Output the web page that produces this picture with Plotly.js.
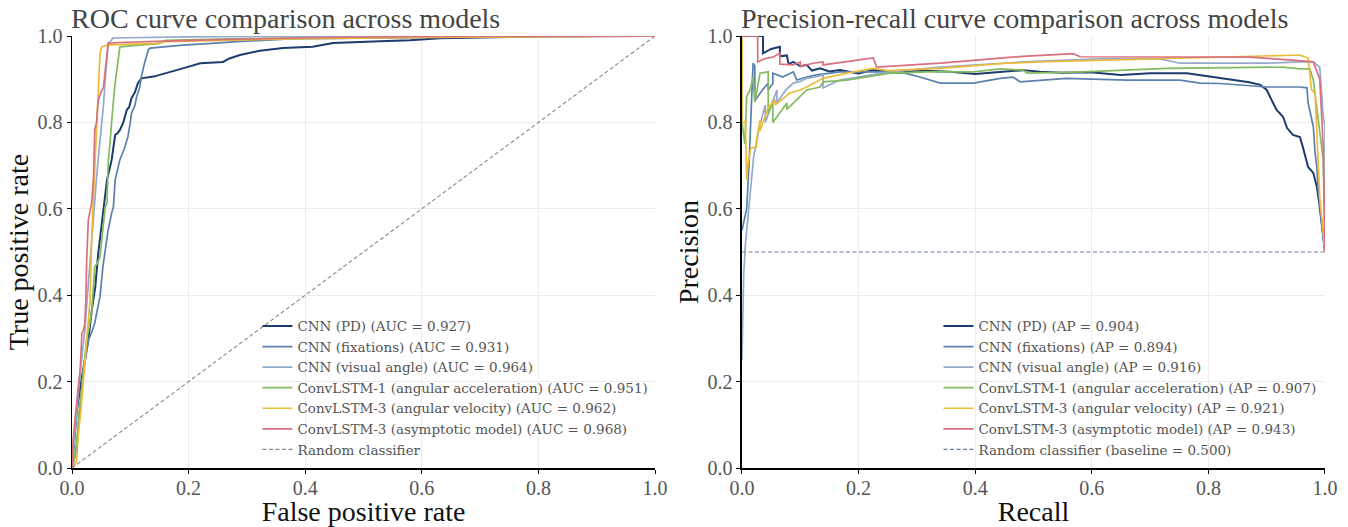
<!DOCTYPE html>
<html>
<head>
<meta charset="utf-8">
<script src="https://cdn.plot.ly/plotly-3.0.1.min.js"></script>
<style>html,body{margin:0;padding:0;background:#fff;}</style>
</head>
<body>
<div id="chart" style="width:1348px;height:527px;"></div>
<script>
// ---------- ROC data ----------
const rocPD_x = [0, 0.002, 0.005, 0.008, 0.012, 0.017, 0.022, 0.028, 0.034, 0.04, 0.045, 0.05, 0.054, 0.06, 0.064, 0.068, 0.074, 0.078, 0.082, 0.088, 0.094, 0.098, 0.102, 0.108, 0.113, 0.119, 0.14, 0.162, 0.19, 0.22, 0.259, 0.27, 0.288, 0.322, 0.362, 0.413, 0.448, 0.528, 0.58, 0.631, 0.7, 0.8, 1.0];
const rocPD_y = [0, 0.04, 0.08, 0.13, 0.17, 0.211, 0.25, 0.296, 0.366, 0.42, 0.497, 0.55, 0.597, 0.667, 0.69, 0.713, 0.771, 0.775, 0.782, 0.8, 0.829, 0.835, 0.856, 0.87, 0.891, 0.902, 0.906, 0.914, 0.925, 0.937, 0.94, 0.948, 0.956, 0.966, 0.972, 0.975, 0.984, 0.988, 0.99, 0.995, 0.997, 0.999, 1.0];

const rocFix_x = [0, 0.004, 0.008, 0.011, 0.014, 0.017, 0.019, 0.024, 0.028, 0.034, 0.039, 0.044, 0.048, 0.053, 0.058, 0.062, 0.068, 0.071, 0.074, 0.078, 0.082, 0.09, 0.096, 0.1, 0.102, 0.108, 0.111, 0.116, 0.119, 0.125, 0.131, 0.134, 0.19, 0.24, 0.283, 0.374, 0.517, 0.66, 0.8, 1.0];
const rocFix_y = [0, 0.02, 0.042, 0.09, 0.142, 0.18, 0.219, 0.26, 0.296, 0.315, 0.335, 0.37, 0.396, 0.466, 0.51, 0.551, 0.59, 0.604, 0.667, 0.69, 0.713, 0.74, 0.767, 0.8, 0.821, 0.84, 0.86, 0.88, 0.906, 0.94, 0.968, 0.972, 0.979, 0.983, 0.987, 0.993, 0.995, 0.998, 0.999, 1.0];

const rocVA_x = [0, 0.003, 0.006, 0.01, 0.014, 0.018, 0.022, 0.026, 0.03, 0.034, 0.038, 0.042, 0.046, 0.05, 0.054, 0.057, 0.06, 0.062, 0.066, 0.07, 0.09, 0.12, 0.2, 0.3, 0.5, 1.0];
const rocVA_y = [0, 0.05, 0.1, 0.16, 0.22, 0.27, 0.32, 0.39, 0.46, 0.54, 0.62, 0.67, 0.73, 0.78, 0.84, 0.9, 0.952, 0.983, 0.988, 0.995, 0.996, 0.997, 0.998, 0.999, 1.0, 1.0];

const rocAcc_x = [0, 0.004, 0.008, 0.012, 0.017, 0.021, 0.025, 0.03, 0.034, 0.039, 0.044, 0.048, 0.053, 0.057, 0.06, 0.062, 0.065, 0.068, 0.071, 0.074, 0.077, 0.079, 0.082, 0.1, 0.151, 0.16, 0.25, 0.4, 0.6, 0.8, 1.0];
const rocAcc_y = [0, 0.02, 0.065, 0.13, 0.188, 0.24, 0.296, 0.33, 0.366, 0.466, 0.475, 0.489, 0.56, 0.604, 0.613, 0.706, 0.75, 0.806, 0.85, 0.891, 0.92, 0.944, 0.975, 0.977, 0.983, 0.99, 0.993, 0.996, 0.998, 0.999, 1.0];

const rocVel_x = [0, 0.004, 0.008, 0.011, 0.015, 0.019, 0.022, 0.025, 0.028, 0.031, 0.034, 0.036, 0.039, 0.042, 0.045, 0.048, 0.051, 0.06, 0.1, 0.145, 0.16, 0.25, 0.4, 0.6, 0.8, 1.0];
const rocVel_y = [0, 0.005, 0.018, 0.08, 0.13, 0.188, 0.24, 0.296, 0.34, 0.389, 0.543, 0.605, 0.66, 0.782, 0.882, 0.96, 0.975, 0.979, 0.981, 0.983, 0.987, 0.99, 0.994, 0.997, 0.999, 1.0];

const rocAsy_x = [0, 0.002, 0.005, 0.008, 0.011, 0.014, 0.017, 0.02, 0.022, 0.024, 0.025, 0.028, 0.031, 0.034, 0.037, 0.039, 0.042, 0.045, 0.05, 0.054, 0.057, 0.06, 0.062, 0.08, 0.117, 0.2, 0.3, 0.4, 0.6, 1.0];
const rocAsy_y = [0, 0.065, 0.11, 0.157, 0.19, 0.227, 0.312, 0.32, 0.335, 0.4, 0.474, 0.574, 0.6, 0.616, 0.674, 0.782, 0.8, 0.852, 0.87, 0.882, 0.92, 0.952, 0.983, 0.985, 0.987, 0.99, 0.993, 0.996, 0.999, 1.0];

const rocRandom_x = [0, 1];
const rocRandom_y = [0, 1];

// ---------- Precision-recall data ----------
const prPD_x = [0, 0.036, 0.036, 0.042, 0.05, 0.065, 0.065, 0.077, 0.08, 0.088, 0.1, 0.111, 0.12, 0.134, 0.15, 0.168, 0.2, 0.225, 0.27, 0.3, 0.357, 0.4, 0.45, 0.482, 0.511, 0.55, 0.597, 0.65, 0.70, 0.763, 0.808, 0.842, 0.87, 0.889, 0.9, 0.911, 0.917, 0.928, 0.935, 0.945, 0.957, 0.962, 0.971, 0.98, 0.986, 0.991, 0.995, 1.0];
const prPD_y = [1, 1, 0.96, 0.965, 0.97, 0.975, 0.953, 0.955, 0.935, 0.94, 0.93, 0.933, 0.92, 0.925, 0.918, 0.921, 0.913, 0.921, 0.915, 0.92, 0.917, 0.912, 0.918, 0.921, 0.917, 0.915, 0.916, 0.91, 0.914, 0.914, 0.905, 0.898, 0.893, 0.887, 0.875, 0.845, 0.829, 0.813, 0.787, 0.771, 0.766, 0.743, 0.697, 0.683, 0.651, 0.604, 0.558, 0.5];

const prFix_x = [0, 0.008, 0.012, 0.017, 0.019, 0.022, 0.022, 0.035, 0.045, 0.045, 0.053, 0.053, 0.07, 0.088, 0.094, 0.111, 0.128, 0.168, 0.225, 0.271, 0.305, 0.34, 0.397, 0.443, 0.465, 0.477, 0.557, 0.66, 0.751, 0.786, 0.82, 0.9, 0.957, 0.969, 0.971, 0.98, 0.983, 0.986, 0.988, 0.991, 0.995, 1.0];
const prFix_y = [0.55, 0.6, 0.7, 0.868, 0.937, 0.93, 0.85, 0.875, 0.891, 0.875, 0.89, 0.914, 0.905, 0.917, 0.898, 0.905, 0.91, 0.917, 0.917, 0.917, 0.905, 0.891, 0.891, 0.902, 0.905, 0.894, 0.902, 0.898, 0.898, 0.891, 0.89, 0.882, 0.882, 0.88, 0.845, 0.79, 0.729, 0.697, 0.651, 0.604, 0.558, 0.5];

const prVA_x = [0, 0.003, 0.006, 0.01, 0.014, 0.02, 0.03, 0.04, 0.04, 0.05, 0.06, 0.06, 0.075, 0.088, 0.1, 0.111, 0.125, 0.139, 0.139, 0.168, 0.202, 0.254, 0.34, 0.443, 0.482, 0.614, 0.717, 0.751, 0.797, 0.9, 0.957, 0.98, 0.991, 0.997, 1.0, 1.0];
const prVA_y = [0.25, 0.45, 0.52, 0.574, 0.643, 0.72, 0.79, 0.84, 0.8, 0.84, 0.875, 0.845, 0.875, 0.891, 0.895, 0.902, 0.905, 0.91, 0.88, 0.898, 0.905, 0.917, 0.928, 0.937, 0.94, 0.947, 0.947, 0.937, 0.937, 0.937, 0.94, 0.94, 0.928, 0.813, 0.79, 0.5];

const prAcc_x = [0, 0.005, 0.008, 0.014, 0.019, 0.022, 0.031, 0.045, 0.045, 0.053, 0.053, 0.077, 0.077, 0.111, 0.134, 0.139, 0.18, 0.254, 0.317, 0.397, 0.443, 0.482, 0.489, 0.585, 0.729, 0.928, 0.957, 0.974, 0.98, 0.988, 0.997, 1.0];
const prAcc_y = [0.8, 0.75, 0.86, 0.875, 0.905, 0.847, 0.914, 0.917, 0.82, 0.85, 0.8, 0.845, 0.83, 0.875, 0.882, 0.894, 0.898, 0.914, 0.917, 0.917, 0.924, 0.921, 0.914, 0.917, 0.925, 0.928, 0.924, 0.924, 0.898, 0.806, 0.713, 0.5];

const prVel_x = [0, 0, 0.006, 0.008, 0.01, 0.015, 0.025, 0.025, 0.031, 0.031, 0.045, 0.057, 0.057, 0.082, 0.1, 0.111, 0.139, 0.18, 0.225, 0.25, 0.34, 0.454, 0.511, 0.614, 0.786, 0.957, 0.971, 0.977, 0.983, 0.991, 1.0];
const prVel_y = [1.0, 0.8, 0.8, 0.667, 0.7, 0.74, 0.744, 0.76, 0.806, 0.78, 0.835, 0.852, 0.84, 0.868, 0.875, 0.882, 0.902, 0.914, 0.925, 0.92, 0.925, 0.937, 0.94, 0.944, 0.951, 0.956, 0.949, 0.875, 0.868, 0.627, 0.5];

const prAsy_x = [0, 0.027, 0.027, 0.04, 0.053, 0.065, 0.065, 0.088, 0.1, 0.1, 0.122, 0.139, 0.139, 0.225, 0.231, 0.34, 0.482, 0.568, 0.58, 0.729, 0.871, 0.945, 0.98, 0.991, 0.997, 1.0];
const prAsy_y = [1.0, 1.0, 0.94, 0.948, 0.951, 0.96, 0.935, 0.933, 0.94, 0.929, 0.937, 0.94, 0.933, 0.949, 0.928, 0.937, 0.953, 0.959, 0.952, 0.951, 0.951, 0.944, 0.94, 0.9, 0.743, 0.5];

const prBase_x = [0, 1];
const prBase_y = [0.5, 0.5];

// ---------- labels ----------
const rocNames = [
  'CNN (PD) (AUC = 0.927)',
  'CNN (fixations) (AUC = 0.931)',
  'CNN (visual angle) (AUC = 0.964)',
  'ConvLSTM-1 (angular acceleration) (AUC = 0.951)',
  'ConvLSTM-3 (angular velocity) (AUC = 0.962)',
  'ConvLSTM-3 (asymptotic model) (AUC = 0.968)',
  'Random classifier'
];
const prNames = [
  'CNN (PD) (AP = 0.904)',
  'CNN (fixations) (AP = 0.894)',
  'CNN (visual angle) (AP = 0.916)',
  'ConvLSTM-1 (angular acceleration) (AP = 0.907)',
  'ConvLSTM-3 (angular velocity) (AP = 0.921)',
  'ConvLSTM-3 (asymptotic model) (AP = 0.943)',
  'Random classifier (baseline = 0.500)'
];
const tickVals = [0, 0.2, 0.4, 0.6, 0.8, 1.0];
const tickText = ['0.0', '0.2', '0.4', '0.6', '0.8', '1.0'];

const colors = ['#1d3c6e', '#5b80ae', '#93aacd', '#84bb60', '#ebbb3a', '#d9707f'];
const rocRandColor = '#838a96';
const prRandColor = '#6b7f9b';

const rocX = [rocPD_x, rocFix_x, rocVA_x, rocAcc_x, rocVel_x, rocAsy_x];
const rocY = [rocPD_y, rocFix_y, rocVA_y, rocAcc_y, rocVel_y, rocAsy_y];
const prX = [prPD_x, prFix_x, prVA_x, prAcc_x, prVel_x, prAsy_x];
const prY = [prPD_y, prFix_y, prVA_y, prAcc_y, prVel_y, prAsy_y];

const traces = [];
for (let i = 0; i < 6; i++) {
  traces.push({x: rocX[i], y: rocY[i], type: 'scatter', mode: 'lines', name: rocNames[i],
    line: {color: colors[i], width: i === 0 ? 2 : 1.7}, xaxis: 'x', yaxis: 'y', legend: 'legend'});
}
traces.push({x: rocRandom_x, y: rocRandom_y, type: 'scatter', mode: 'lines', name: rocNames[6],
  line: {color: rocRandColor, width: 1.1, dash: '4px,2.5px'}, xaxis: 'x', yaxis: 'y', legend: 'legend'});
for (let i = 0; i < 6; i++) {
  traces.push({x: prX[i], y: prY[i], type: 'scatter', mode: 'lines', name: prNames[i],
    line: {color: colors[i], width: i === 0 ? 2 : 1.7}, xaxis: 'x2', yaxis: 'y2', legend: 'legend2'});
}
traces.push({x: prBase_x, y: prBase_y, type: 'scatter', mode: 'lines', name: prNames[6],
  line: {color: prRandColor, width: 1.1, dash: '4px,2.5px'}, xaxis: 'x2', yaxis: 'y2', legend: 'legend2'});

const FONT = 'Liberation Serif';
const LFONT = 'DejaVu Serif';
function axis(extra) {
  return Object.assign({
    range: [0, 1], tickvals: tickVals, ticktext: tickText,
    showline: true, linecolor: '#000', linewidth: 1.5, mirror: false,
    ticks: 'outside', ticklen: 4, tickwidth: 1, tickcolor: '#000',
    showgrid: true, gridcolor: '#ececec', gridwidth: 1, zeroline: false,
    tickfont: {family: FONT, size: 20, color: '#555'}, fixedrange: true
  }, extra);
}
function legendCfg(x) {
  return {
    bgcolor: 'rgba(0,0,0,0)', borderwidth: 0, xanchor: 'left', yanchor: 'top',
    font: {family: LFONT, size: 13.5, color: '#555'}, tracegroupgap: 0, itemwidth: 30,
    x: x, y: 0.364
  };
}
function ttl(text) {
  return {text: text, font: {family: FONT, size: 28, color: '#111'}};
}

const layout = {
  width: 1348, height: 527,
  margin: {l: 72, r: 23, t: 36, b: 59, pad: 0},
  paper_bgcolor: '#fff', plot_bgcolor: '#fff',
  font: {family: FONT, color: '#555'},
  showlegend: true,
  xaxis: axis({domain: [0, 0.4653], anchor: 'y', ticklabelstandoff: -3,
    title: Object.assign(ttl('False positive rate'), {standoff: 8})}),
  yaxis: axis({domain: [0, 1], anchor: 'x', title: Object.assign(ttl('True positive rate'), {standoff: 0})}),
  xaxis2: axis({domain: [0.5347, 1], anchor: 'y2', ticklabelstandoff: -3,
    title: Object.assign(ttl('Recall'), {standoff: 8})}),
  yaxis2: axis({domain: [0, 1], anchor: 'x2', title: Object.assign(ttl('Precision'), {standoff: 0})}),
  legend: legendCfg(0.148),
  legend2: legendCfg(0.6915),
  annotations: [
    {text: 'ROC curve comparison across models', xref: 'x domain', yref: 'paper', x: 0, y: 1,
      xanchor: 'left', yanchor: 'bottom', xshift: -3, showarrow: false,
      font: {family: FONT, size: 28, color: '#444'}},
    {text: 'Precision-recall curve comparison across models', xref: 'x2 domain', yref: 'paper', x: 0, y: 1,
      xanchor: 'left', yanchor: 'bottom', xshift: -3, showarrow: false,
      font: {family: FONT, size: 28, color: '#444'}}
  ]
};

Plotly.newPlot('chart', traces, layout, {displayModeBar: false, staticPlot: true});
</script>
</body>
</html>
